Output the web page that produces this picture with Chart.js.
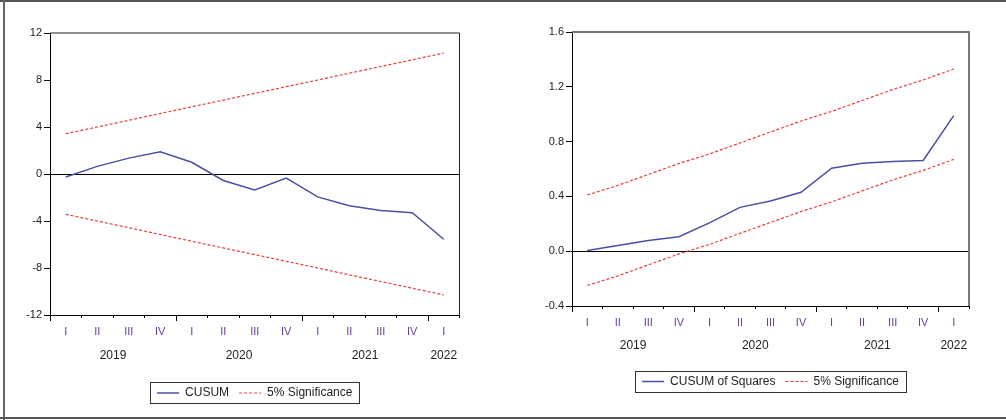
<!DOCTYPE html>
<html>
<head>
<meta charset="utf-8">
<script src="https://cdn.jsdelivr.net/npm/chart.js@4/dist/chart.umd.min.js"></script>
<style>
  html, body { margin: 0; padding: 0; background: #fff; }
  #page { position: relative; width: 1006px; height: 420px; overflow: hidden; background: #fff; }
  .edge { position: absolute; background: #555; }
  .pane { position: absolute; top: 0; height: 420px; }
</style>
</head>
<body>
<div id="page">
  <div class="pane" style="left:0;width:500px"><canvas id="cusum" width="500" height="420"></canvas></div>
  <div class="pane" style="left:500px;width:506px"><canvas id="cusumsq" width="506" height="420"></canvas></div>
  <div class="edge" style="left:0;top:0;width:1006px;height:2px"></div>
  <div class="edge" style="left:3px;top:0;width:2px;height:420px;background:#666"></div>
  <div class="edge" style="left:0;top:417px;width:1006px;height:2px"></div>
</div>
<script>
// quarters 2019Q1 .. 2022Q1
const quarters = ['I', 'II', 'III', 'IV', 'I', 'II', 'III', 'IV', 'I', 'II', 'III', 'IV', 'I'];
const years = [
  { label: '2019', from: 0, to: 3 },
  { label: '2020', from: 4, to: 7 },
  { label: '2021', from: 8, to: 11 },
  { label: '2022', from: 12, to: 12 }
];

// CUSUM test
const cusum = [-0.25, 0.65, 1.35, 1.9, 1.0, -0.55, -1.35, -0.35, -1.95, -2.7, -3.1, -3.3, -5.55];
const cusumUpper = [3.43, 4.0, 4.57, 5.15, 5.72, 6.29, 6.86, 7.43, 8.0, 8.58, 9.15, 9.72, 10.29];
const cusumLower = [-3.43, -4.0, -4.57, -5.15, -5.72, -6.29, -6.86, -7.43, -8.0, -8.58, -9.15, -9.72, -10.29];
const cusumTicks = [-12, 12, 4];

// CUSUM of squares test
const cusumSq = [0.005, 0.042, 0.078, 0.106, 0.207, 0.32, 0.367, 0.43, 0.606, 0.642, 0.655, 0.662, 0.99];
const cusumSqUpper = [0.41, 0.48, 0.56, 0.64, 0.71, 0.79, 0.87, 0.95, 1.02, 1.10, 1.18, 1.25, 1.33];
const cusumSqLower = [-0.25, -0.18, -0.10, -0.02, 0.05, 0.13, 0.21, 0.29, 0.36, 0.44, 0.52, 0.59, 0.67];
const cusumSqTicks = [-0.4, 1.6, 0.4];

const BLUE = '#4a4fa6';
const RED = '#f03a3a';
const DASH = [3, 2];
const FONT = 'Arial, "Liberation Sans", sans-serif';

// frame round the plot, year row, long ticks at year starts, box round the legend
const eviewsPlugin = {
  id: 'eviews',
  afterDraw(chart, args, opts) {
    const { ctx, chartArea: a } = chart;
    const x = chart.scales.x;
    ctx.save();

    ctx.strokeStyle = opts.frameColor;
    ctx.lineWidth = opts.frameWidth;
    ctx.beginPath();
    ctx.moveTo(a.left, a.top);
    ctx.lineTo(a.right, a.top);
    ctx.lineTo(a.right, a.bottom);
    ctx.stroke();

    ctx.strokeStyle = '#000';
    ctx.lineWidth = 1;
    const step = x.getPixelForValue(1) - x.getPixelForValue(0);
    ctx.beginPath();
    years.forEach(y => {
      const px = Math.round(x.getPixelForValue(y.from) - step / 2) + 0.5;
      ctx.moveTo(px, a.bottom);
      ctx.lineTo(px, a.bottom + 6);
    });
    ctx.stroke();

    ctx.fillStyle = '#222';
    ctx.font = '12px ' + FONT;
    ctx.textAlign = 'center';
    ctx.textBaseline = 'alphabetic';
    years.forEach(y => {
      const cx = (x.getPixelForValue(y.from) + x.getPixelForValue(y.to)) / 2;
      ctx.fillText(y.label, cx, a.bottom + opts.yearOffset + 4);
    });

    const boxes = chart.legend.legendHitBoxes;
    if (boxes && boxes.length) {
      const l = boxes[0].left - 7;
      const r = boxes[boxes.length - 1].left + boxes[boxes.length - 1].width + 7;
      const t = boxes[0].top - 5;
      const b = boxes[0].top + boxes[0].height + 4;
      ctx.strokeStyle = '#333';
      ctx.lineWidth = 1;
      ctx.strokeRect(Math.round(l) + 0.5, Math.round(t) + 0.5, Math.round(r - l), Math.round(b - t));
    }
    ctx.restore();
  }
};

function legendItems(chart) {
  return chart.data.datasets.slice(0, 2).map((ds, i) => ({
    text: ds.label,
    datasetIndex: i,
    pointStyle: 'line',
    strokeStyle: ds.borderColor,
    fillStyle: ds.borderColor,
    lineWidth: ds.borderWidth,
    lineDash: ds.borderDash || [],
    fontColor: '#222',
    hidden: false
  }));
}

function makeChart(id, cfg) {
  const [ymin, ymax, ystep] = cfg.ticks;
  return new Chart(document.getElementById(id), {
    type: 'line',
    data: {
      labels: quarters,
      datasets: [
        { label: cfg.name, data: cfg.series, borderColor: BLUE, borderWidth: 1.5 },
        { label: '5% Significance', data: cfg.upper, borderColor: RED, borderWidth: 1.2, borderDash: DASH },
        { label: 'lower', data: cfg.lower, borderColor: RED, borderWidth: 1.2, borderDash: DASH }
      ]
    },
    options: {
      responsive: false,
      animation: false,
      elements: { point: { radius: 0 }, line: { tension: 0 } },
      layout: { padding: cfg.padding },
      plugins: {
        tooltip: { enabled: false },
        legend: {
          position: 'bottom',
          fullSize: false,
          labels: {
            generateLabels: legendItems,
            usePointStyle: true,
            pointStyle: 'line',
            pointStyleWidth: 22,
            padding: 10,
            color: '#222',
            font: { family: FONT, size: 12 }
          }
        },
        eviews: { frameColor: cfg.frameColor, frameWidth: cfg.frameWidth, yearOffset: cfg.yearOffset }
      },
      scales: {
        x: {
          offset: true,
          grid: { offset: true, drawOnChartArea: false, tickLength: 3, tickColor: '#000' },
          border: { color: '#000', width: 1 },
          ticks: { color: '#6a3d9a', padding: 7, autoSkip: false, maxRotation: 0, font: { family: FONT, size: 11 } },
          afterFit: s => { s.height = cfg.xHeight; }
        },
        y: {
          min: ymin,
          max: ymax,
          grid: {
            color: c => (c.tick && Math.abs(c.tick.value) < 1e-9 ? '#000' : 'rgba(0,0,0,0)'),
            tickColor: '#000',
            tickLength: 6
          },
          border: { color: '#000', width: 1 },
          ticks: {
            stepSize: ystep,
            padding: 2,
            color: '#222',
            font: { family: FONT, size: 11 },
            callback: v => cfg.fmt(v)
          },
          afterFit: s => { s.width = cfg.yWidth; }
        }
      }
    },
    plugins: [eviewsPlugin]
  });
}

makeChart('cusum', {
  name: 'CUSUM',
  series: cusum, upper: cusumUpper, lower: cusumLower, ticks: cusumTicks,
  fmt: v => String(Math.round(v)),
  padding: { top: 33, right: 40.5, bottom: 11, left: 0 },
  yWidth: 50, xHeight: 62, yearOffset: 39.5,
  frameColor: '#222', frameWidth: 1
});

makeChart('cusumsq', {
  name: 'CUSUM of Squares',
  series: cusumSq, upper: cusumSqUpper, lower: cusumSqLower, ticks: cusumSqTicks,
  fmt: v => v.toFixed(1),
  padding: { top: 32, right: 37, bottom: 22.5, left: 0 },
  yWidth: 72, xHeight: 59.5, yearOffset: 38.6,
  frameColor: '#777', frameWidth: 2
});
</script>
</body>
</html>
